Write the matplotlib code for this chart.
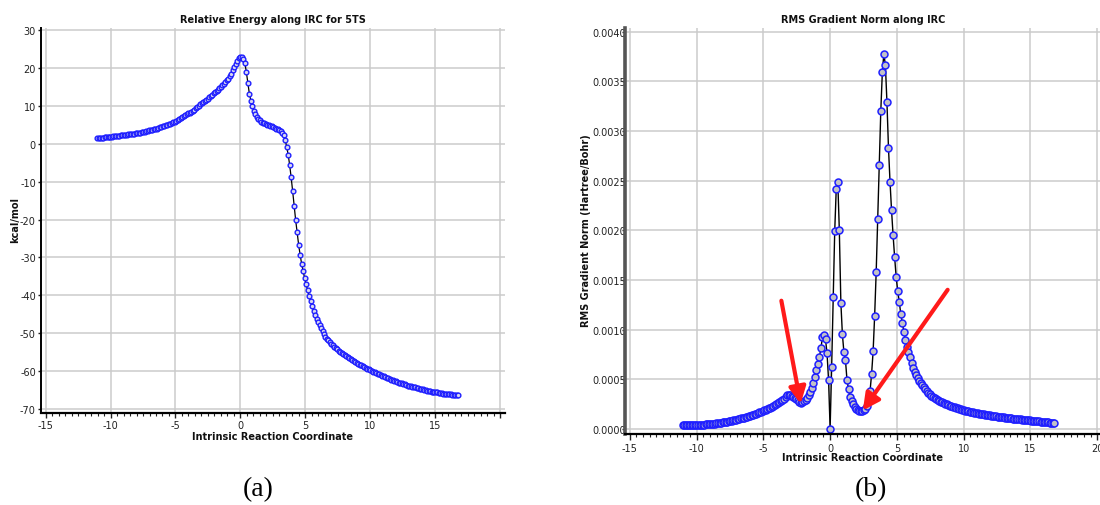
import matplotlib
matplotlib.use('Agg')
import matplotlib.pyplot as plt
from matplotlib.ticker import MultipleLocator, FormatStrFormatter

plt.rcParams['font.family'] = ['DejaVu Sans']
plt.rcParams['axes.unicode_minus'] = False

# ---- IRC data ----
# reverse branch (reactant side)
irc_rev = [
    -11.04, -10.925, -10.81, -10.695, -10.58, -10.465, -10.35, -10.235, -10.12, -10.005,
    -9.89, -9.775, -9.66, -9.545, -9.43, -9.315, -9.2, -9.085, -8.97, -8.855,
    -8.74, -8.625, -8.51, -8.395, -8.28, -8.165, -8.05, -7.935, -7.82, -7.705,
    -7.59, -7.475, -7.36, -7.245, -7.13, -7.015, -6.9, -6.785, -6.67, -6.555,
    -6.44, -6.325, -6.21, -6.095, -5.98, -5.865, -5.75, -5.635, -5.52, -5.405,
    -5.29, -5.175, -5.06, -4.945, -4.83, -4.715, -4.6, -4.485, -4.37, -4.255,
    -4.14, -4.025, -3.91, -3.795, -3.68, -3.565, -3.45, -3.335, -3.22, -3.105,
    -2.99, -2.875, -2.76, -2.645,
]
energy_rev = [
    1.4, 1.45, 1.5, 1.55, 1.6, 1.65, 1.7, 1.75, 1.8, 1.85,
    1.9, 1.95, 2.0, 2.05, 2.1, 2.15, 2.2, 2.25, 2.3, 2.35,
    2.4, 2.45, 2.5, 2.55, 2.6, 2.65, 2.7, 2.78, 2.85, 2.92,
    3.0, 3.1, 3.2, 3.3, 3.4, 3.5, 3.6, 3.7, 3.8, 3.9,
    4.0, 4.15, 4.3, 4.42, 4.55, 4.7, 4.85, 5.0, 5.15, 5.32,
    5.5, 5.68, 5.85, 6.05, 6.25, 6.48, 6.7, 6.95, 7.2, 7.5,
    7.8, 8.0, 8.2, 8.45, 8.7, 9.0, 9.3, 9.65, 10.0, 10.35,
    10.7, 11.0, 11.3, 11.6,
]
grad_rev = [  # 1e-4 Hartree/Bohr
    0.36, 0.36, 0.36, 0.365, 0.37, 0.37, 0.37, 0.375, 0.38, 0.385,
    0.39, 0.40, 0.41, 0.42, 0.43, 0.44, 0.45, 0.465, 0.48, 0.495,
    0.51, 0.53, 0.55, 0.57, 0.59, 0.615, 0.64, 0.67, 0.70, 0.73,
    0.76, 0.795, 0.83, 0.865, 0.90, 0.935, 0.97, 1.01, 1.05, 1.09,
    1.13, 1.175, 1.22, 1.27, 1.32, 1.375, 1.43, 1.485, 1.54, 1.60,
    1.66, 1.72, 1.78, 1.85, 1.92, 1.99, 2.06, 2.14, 2.22, 2.30,
    2.38, 2.465, 2.55, 2.67, 2.80, 2.95, 3.05, 3.20, 3.38, 3.44,
    3.42, 3.32, 3.18, 3.08,
]

# transition-state region
irc_ts = [
    -2.53, -2.415, -2.3, -2.185, -2.07, -1.955, -1.84, -1.725, -1.61, -1.495,
    -1.38, -1.265, -1.15, -1.035, -0.92, -0.805, -0.69, -0.575, -0.46, -0.345,
    -0.23, -0.115, 0.0, 0.115, 0.23, 0.345, 0.46, 0.575, 0.69, 0.805,
    0.92, 1.035, 1.15, 1.265, 1.38, 1.495, 1.61, 1.725, 1.84, 1.955,
    2.07, 2.185, 2.3, 2.415, 2.53, 2.645, 2.76, 2.875, 2.99, 3.105,
    3.22, 3.335, 3.45, 3.565, 3.68, 3.795, 3.91, 4.025, 4.14, 4.255,
    4.37, 4.485, 4.6, 4.715, 4.83, 4.945, 5.06, 5.175, 5.29, 5.405,
    5.52, 5.635, 5.75, 5.865, 5.98, 6.095, 6.21, 6.325, 6.44, 6.555,
    6.67, 6.785, 6.9,
]
energy_ts = [
    11.9, 12.25, 12.6, 12.95, 13.3, 13.6, 13.95, 14.3, 14.65, 15.0,
    15.4, 15.8, 16.3, 16.8, 17.2, 17.8, 18.5, 19.4, 20.3, 21.1,
    21.8, 22.5, 23.0, 22.8, 22.4, 21.2, 18.9, 16.0, 13.2, 11.4,
    10.0, 8.7, 7.8, 7.1, 6.6, 6.2, 5.85, 5.6, 5.4, 5.2,
    5.0, 4.85, 4.7, 4.55, 4.4, 4.2, 4.0, 3.85, 3.6, 3.3,
    2.9, 2.2, 1.0, -0.8, -2.9, -5.6, -8.9, -12.5, -16.4, -20.1,
    -23.4, -26.6, -29.3, -31.6, -33.6, -35.4, -37.0, -38.6, -40.2, -41.5,
    -42.8, -44.0, -45.2, -46.2, -47.0, -47.9, -48.7, -49.5, -50.3, -50.9,
    -51.4, -51.9, -52.4,
]
grad_ts = [
    3.00, 2.85, 2.72, 2.62, 2.66, 2.75, 2.90, 3.10, 3.40, 3.70,
    4.10, 4.60, 5.20, 5.90, 6.50, 7.20, 8.10, 9.20, 9.40, 9.00,
    7.60, 4.90, 0.00, 6.20, 13.3, 19.9, 24.2, 24.9, 20.0, 12.7,
    9.50, 7.70, 6.90, 4.90, 4.00, 3.20, 2.80, 2.45, 2.20, 2.00,
    1.90, 1.82, 1.78, 1.78, 1.85, 2.00, 2.30, 2.90, 3.80, 5.50,
    7.80, 11.4, 15.8, 21.1, 26.6, 32.0, 35.9, 37.8, 36.6, 32.9,
    28.3, 24.9, 22.0, 19.5, 17.3, 15.3, 13.9, 12.8, 11.6, 10.7,
    9.80, 8.90, 8.20, 7.70, 7.20, 6.60, 6.10, 5.70, 5.40, 5.10,
    4.85, 4.60, 4.40,
]

# forward branch (product side)
irc_fwd = [
    7.015, 7.13, 7.245, 7.36, 7.475, 7.59, 7.705, 7.82, 7.935, 8.05,
    8.165, 8.28, 8.395, 8.51, 8.625, 8.74, 8.855, 8.97, 9.085, 9.2,
    9.315, 9.43, 9.545, 9.66, 9.775, 9.89, 10.005, 10.12, 10.235, 10.35,
    10.465, 10.58, 10.695, 10.81, 10.925, 11.04, 11.155, 11.27, 11.385, 11.5,
    11.615, 11.73, 11.845, 11.96, 12.075, 12.19, 12.305, 12.42, 12.535, 12.65,
    12.765, 12.88, 12.995, 13.11, 13.225, 13.34, 13.455, 13.57, 13.685, 13.8,
    13.915, 14.03, 14.145, 14.26, 14.375, 14.49, 14.605, 14.72, 14.835, 14.95,
    15.065, 15.18, 15.295, 15.41, 15.525, 15.64, 15.755, 15.87, 15.985, 16.1,
    16.215, 16.33, 16.445, 16.56, 16.675, 16.79,
]
energy_fwd = [
    -52.8, -53.2, -53.55, -53.9, -54.25, -54.6, -54.9, -55.2, -55.45, -55.7,
    -56.0, -56.3, -56.55, -56.8, -57.05, -57.3, -57.55, -57.8, -58.05, -58.3,
    -58.5, -58.7, -58.9, -59.1, -59.3, -59.5, -59.7, -59.9, -60.1, -60.3,
    -60.5, -60.7, -60.85, -61.0, -61.2, -61.4, -61.55, -61.7, -61.9, -62.1,
    -62.25, -62.4, -62.55, -62.7, -62.85, -63.0, -63.1, -63.2, -63.35, -63.5,
    -63.65, -63.8, -63.9, -64.0, -64.1, -64.2, -64.3, -64.4, -64.5, -64.6,
    -64.7, -64.8, -64.9, -65.0, -65.1, -65.2, -65.3, -65.4, -65.45, -65.5,
    -65.55, -65.6, -65.7, -65.8, -65.85, -65.9, -65.95, -66.0, -66.05, -66.1,
    -66.15, -66.2, -66.25, -66.3, -66.35, -66.4,
]
grad_fwd = [
    4.20, 4.00, 3.82, 3.65, 3.50, 3.35, 3.22, 3.10, 3.00, 2.90,
    2.81, 2.72, 2.65, 2.58, 2.51, 2.45, 2.38, 2.32, 2.26, 2.20,
    2.15, 2.10, 2.05, 2.00, 1.95, 1.91, 1.86, 1.82, 1.78, 1.75,
    1.71, 1.68, 1.65, 1.62, 1.59, 1.56, 1.53, 1.51, 1.48, 1.46,
    1.43, 1.41, 1.38, 1.36, 1.33, 1.31, 1.28, 1.26, 1.23, 1.21,
    1.19, 1.17, 1.15, 1.13, 1.11, 1.09, 1.06, 1.04, 1.02, 1.00,
    0.98, 0.97, 0.95, 0.94, 0.92, 0.91, 0.89, 0.88, 0.86, 0.85,
    0.83, 0.82, 0.80, 0.78, 0.76, 0.75, 0.73, 0.72, 0.70, 0.68,
    0.66, 0.65, 0.63, 0.62, 0.61, 0.60,
]

irc = irc_rev + irc_ts + irc_fwd
energy = energy_rev + energy_ts + energy_fwd
grad = [g * 1e-4 for g in grad_rev + grad_ts + grad_fwd]

x_ticks = [-15, -10, -5, 0, 5, 10, 15, 20]
energy_ticks = [30, 20, 10, 0, -10, -20, -30, -40, -50, -60, -70]

# red arrows pointing at the two gradient minima (tail -> head)
arrow_tails = [(-3.65, 0.00129), (8.8, 0.00140)]
arrow_heads = [(-2.2, 0.000252), (2.45, 0.000185)]

W, H = 1100, 506
fig = plt.figure(figsize=(W / 100, H / 100), dpi=100)


def box(left, top, right, bottom):
    return [left / W, 1 - bottom / H, (right - left) / W, (bottom - top) / H]


ax1 = fig.add_axes(box(40.7, 29.3, 505, 413.5))
ax2 = fig.add_axes(box(624.7, 29.3, 1102.3, 434.5))

for ax in (ax1, ax2):
    ax.spines['top'].set_visible(False)
    ax.spines['right'].set_visible(False)
    ax.grid(True, which='major', color='#cbcbcb', lw=1.1)
    ax.set_axisbelow(True)
    ax.set_xlim(-15.38, 20.38)
    ax.xaxis.set_minor_locator(MultipleLocator(0.5))
    ax.set_xticks(x_ticks)
    ax.tick_params(axis='both', which='major', labelsize=7, colors='#222222', labelcolor='#222222')
    ax.tick_params(axis='x', which='minor', length=1.8, width=0.8, color='#222222')
    ax.spines['bottom'].set_linewidth(1.6)

# ---- (a) relative energy ----
ax1.plot(irc, energy, '-', color='black', lw=0.9,
         marker='o', ms=3.4, mfc='#d8d8ee', mec='#1f1fff', mew=1.0)
ax1.set_ylim(-70.9, 30.45)
ax1.set_yticks(energy_ticks)
ax1.set_xticklabels(['-15', '-10', '-5', '0', '5', '10', '15', ''])
ax1.tick_params(axis='x', which='major', length=3.6, width=1, pad=1.5)
ax1.tick_params(axis='y', length=2.5, width=1, pad=1)
ax1.spines['left'].set_linewidth(1.4)
ax1.spines['left'].set_color('black')

# ---- (b) RMS gradient ----
ax2.plot(irc, grad, '-', color='black', lw=1.0,
         marker='o', ms=5.0, mfc='#c2c2c6', mec='#1f1fff', mew=1.1)
ax2.set_ylim(-0.0000474, 0.004034)
ax2.yaxis.set_major_locator(MultipleLocator(0.0005))
ax2.yaxis.set_major_formatter(FormatStrFormatter('%.4f'))
ax2.tick_params(axis='x', which='major', length=4.3, width=1, pad=2.8)
ax2.tick_params(axis='y', length=2.5, width=1, pad=-3.6)
ax2.spines['left'].set_linewidth(2.6)
ax2.spines['left'].set_color('#555555')

for tail, head in zip(arrow_tails, arrow_heads):
    ax2.annotate('', xy=head, xytext=tail,
                 arrowprops=dict(arrowstyle='-|>,head_length=0.55,head_width=0.28',
                                 color='#ff1a1a', lw=3.0, mutation_scale=18,
                                 shrinkA=0, shrinkB=0))

# titles and axis labels
bold = dict(fontsize=7, fontweight='bold', color='#111111', ha='center', va='center')
fig.text(273 / W, 1 - 20 / H, 'Relative Energy along IRC for 5TS', **bold)
fig.text(863 / W, 1 - 20 / H, 'RMS Gradient Norm along IRC', **bold)
fig.text(273 / W, 1 - 437 / H, 'Intrinsic Reaction Coordinate', **bold)
fig.text(863 / W, 1 - 458 / H, 'Intrinsic Reaction Coordinate', **bold)
fig.text(15.5 / W, 1 - 220 / H, 'kcal/mol', rotation=90, **bold)
fig.text(586 / W, 1 - 231 / H, 'RMS Gradient Norm (Hartree/Bohr)', rotation=90, **bold)

serif = dict(fontsize=20, family='Liberation Serif', ha='center', va='center', color='black')
fig.text(258.5 / W, 1 - 490 / H, '(a)', **serif)
fig.text(870.5 / W, 1 - 490 / H, '(b)', **serif)

fig.savefig('out.png', dpi=100)
